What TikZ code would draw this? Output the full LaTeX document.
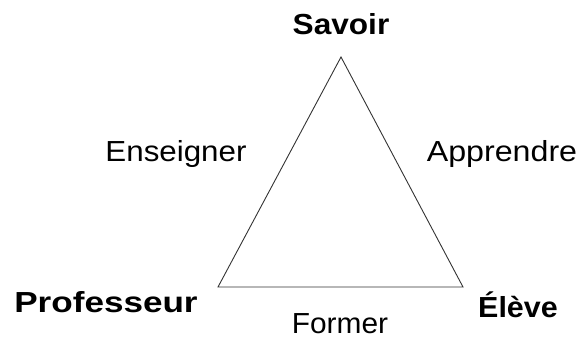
\documentclass[tikz,border=0pt]{standalone}
\usepackage{fontspec}
\setmainfont{Liberation Sans}
\usepackage{tikz}
\usetikzlibrary{positioning}
\definecolor{edgeCol}{HTML}{333333}
\tikzset{
  pole/.style={font=\fontsize{29}{32}\selectfont\bfseries, anchor=base, inner sep=0pt},
  act/.style={font=\fontsize{29}{32}\selectfont, anchor=base, inner sep=0pt},
  side/.style={draw=edgeCol, line width=0.9pt, line join=miter},
}
\begin{document}
\begin{tikzpicture}[x=1pt,y=-1pt]
  \useasboundingbox (0,0) rectangle (581,339);
  % corners of the triangle
  \coordinate (cS) at (341,57);
  \coordinate (cP) at (218,287);
  \coordinate (cE) at (463,287);

  \node[pole] (savoir) at (341,35) {\scalebox{1.09}[1]{Savoir}};
  \node[pole] (prof)   at (106,312) {\scalebox{1.21}[1]{Professeur}};
  \node[pole] (eleve)  at (518,317) {\scalebox{1.05}[1]{Élève}};

  \node[act] (ens)  at (176,162) {\scalebox{1.08}[1]{Enseigner}};
  \node[act] (app)  at (502,162) {\scalebox{1.11}[1]{Apprendre}};
  \node[act] (form) at (340,333) {\scalebox{1.03}[1]{Former}};

  \draw[side] (cS) -- (cP) -- (cE) -- cycle;
\end{tikzpicture}
\end{document}
